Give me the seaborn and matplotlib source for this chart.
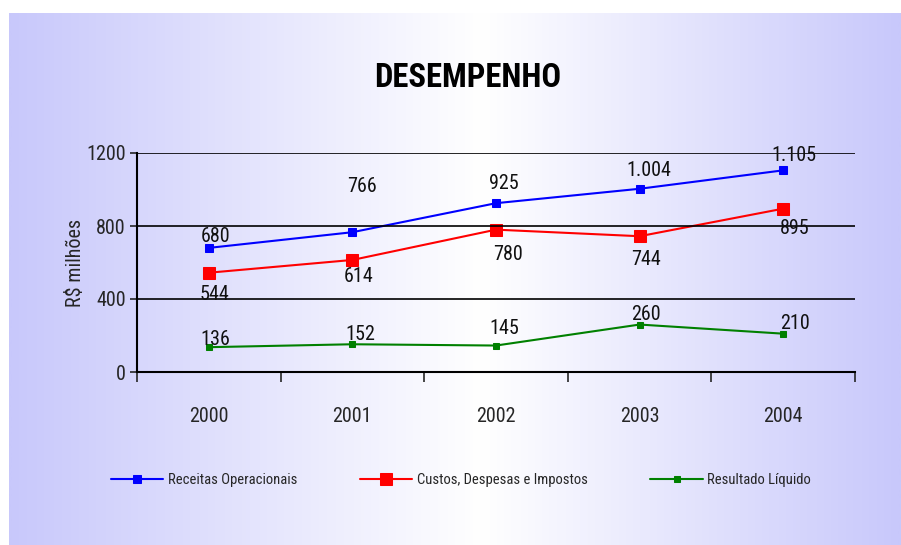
import numpy as np
import pandas as pd
import seaborn as sns
import matplotlib.pyplot as plt
from matplotlib.colors import LinearSegmentedColormap

anos = ["2000", "2001", "2002", "2003", "2004"]
receitas = [680, 766, 925, 1004, 1105]
custos = [544, 614, 780, 744, 895]
resultado = [136, 152, 145, 260, 210]

series = ["Receitas Operacionais", "Custos, Despesas e Impostos", "Resultado Líquido"]
cores = {"Receitas Operacionais": "#0000ff",
         "Custos, Despesas e Impostos": "#ff0000",
         "Resultado Líquido": "#008000"}
tam_marcador = {"Receitas Operacionais": 6, "Custos, Despesas e Impostos": 8,
                "Resultado Líquido": 5}

# deslocamento dos rótulos em pixels (dx, dy)
desloc = {
    "Receitas Operacionais": [(7, 11), (10, 46), (8, 20), (9, 18), (11, 15)],
    "Custos, Despesas e Impostos": [(6, -22), (6, -17), (12, -25), (6, -23), (12, -20)],
    "Resultado Líquido": [(7, 8), (8, 10), (8, 17), (6, 10), (12, 10)],
}

df = pd.DataFrame({
    "pos": list(range(len(anos))) * 3,
    "valor": receitas + custos + resultado,
    "serie": [s for s in series for _ in anos],
})

sns.set_style("white")
plt.rcParams["font.family"] = ["Roboto Condensed", "DejaVu Sans"]

fig = plt.figure(figsize=(9.01, 5.45), dpi=100)

# fundo em degradê
bg = fig.add_axes([9 / 901, 0, 1 - 9 / 901, 1 - 13 / 545])
cmap = LinearSegmentedColormap.from_list(
    "lav", [(0, "#c8c8fb"), (0.53, "#ffffff"), (1, "#c8c8fb")])
grad = np.linspace(0, 1, 512).reshape(1, -1)
bg.imshow(grad, aspect="auto", cmap=cmap, extent=[0, 1, 0, 1])
bg.set_axis_off()

ax = fig.add_axes([137 / 901, 1 - 372 / 545, (855 - 137) / 901, (372 - 153) / 545])
ax.set_facecolor("none")

for s in series:
    sub = df[df["serie"] == s]
    sns.lineplot(data=sub, x="pos", y="valor", ax=ax, color=cores[s], marker="s",
                 markersize=tam_marcador[s], markeredgecolor=cores[s], linewidth=1.5,
                 label=s)
    for (x, v), (dx, dy) in zip(zip(sub["pos"], sub["valor"]), desloc[s]):
        ax.annotate(f"{v:,}".replace(",", "."), (x, v), xytext=(dx * 0.72, dy * 0.72),
                    textcoords="offset points", ha="center", va="center",
                    fontsize=14.5, color="#111111")

ax.set_xlim(-0.5, 4.5)
ax.set_ylim(0, 1200)
ax.set_yticks([0, 400, 800, 1200])
ax.tick_params(axis="y", labelsize=14.5, length=5, width=1.2, direction="out", left=True, pad=3)
ax.set_xticks(np.arange(-0.5, 5, 1))
ax.set_xticklabels([])
ax.set_xticks(range(len(anos)), minor=True)
ax.set_xticklabels(anos, minor=True)
ax.tick_params(axis="x", which="major", length=7, width=1.2, direction="out", bottom=True)
ax.tick_params(axis="x", which="minor", length=0, labelsize=14.5, pad=25)
for y in [400, 800, 1200]:
    ax.axhline(y, color="black", lw=1.2)
for side in ["top", "right"]:
    ax.spines[side].set_visible(False)
for side in ["left", "bottom"]:
    ax.spines[side].set_color("black")
    ax.spines[side].set_linewidth(1.5)
ax.set_xlabel("")
ax.set_ylabel("R$ milhões", fontsize=14.5, labelpad=1)

ax.legend(loc="center", bbox_to_anchor=(461 / 901, 1 - 480 / 545),
          bbox_transform=fig.transFigure, ncol=3, frameon=False, fontsize=10.5,
          handlelength=3.6, columnspacing=4.3, handletextpad=0.3)

fig.text(468 / 901, 1 - 78 / 545, "DESEMPENHO", ha="center", va="center",
         fontsize=23.5, fontweight="bold", color="black")

fig.savefig("out.png", dpi=100)
